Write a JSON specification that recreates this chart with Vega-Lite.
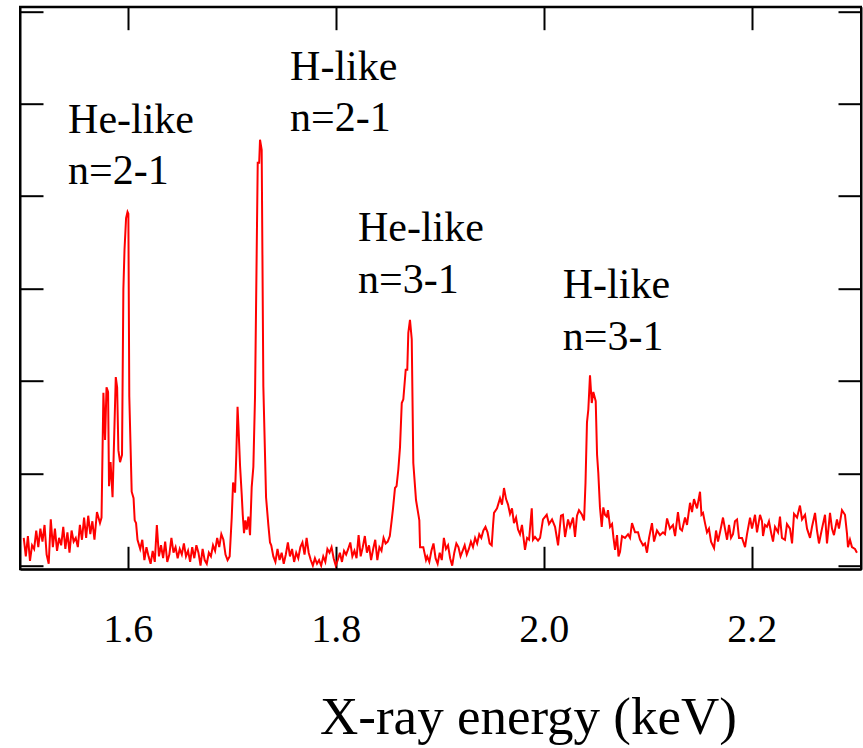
{
  "$schema": "https://vega.github.io/schema/vega-lite/v6.json",
  "autosize": "none",
  "width": 841,
  "height": 562.6,
  "padding": {"left": 20, "top": 6.7, "right": 2, "bottom": 178.7},
  "background": "white",
  "config": {
    "view": {"stroke": "black", "strokeWidth": 2},
    "axis": {
      "domainColor": "black", "domainWidth": 2,
      "tickColor": "black", "tickWidth": 2, "tickSize": -23,
      "grid": false,
      "labelFont": "Liberation Serif", "labelFontSize": 40, "labelColor": "black",
      "titleFont": "Liberation Serif", "titleFontSize": 53, "titleFontWeight": "normal", "titleColor": "black"
    }
  },
  "datasets": {
    "spectrum": [
      {"e":1.500,"c":0.30},{"e":1.502,"c":0.10},{"e":1.504,"c":0.32},{"e":1.506,"c":0.05},{"e":1.508,"c":0.22},
      {"e":1.510,"c":0.18},{"e":1.512,"c":0.38},{"e":1.514,"c":0.20},{"e":1.516,"c":0.40},{"e":1.518,"c":0.26},
      {"e":1.520,"c":0.44},{"e":1.522,"c":0.12},{"e":1.524,"c":0.02},{"e":1.526,"c":0.50},{"e":1.528,"c":0.20},
      {"e":1.530,"c":0.40},{"e":1.532,"c":0.16},{"e":1.534,"c":0.30},{"e":1.536,"c":0.22},{"e":1.538,"c":0.42},
      {"e":1.540,"c":0.18},{"e":1.542,"c":0.36},{"e":1.544,"c":0.14},{"e":1.546,"c":0.38},{"e":1.548,"c":0.26},
      {"e":1.550,"c":0.30},{"e":1.552,"c":0.20},{"e":1.554,"c":0.44},{"e":1.556,"c":0.28},{"e":1.558,"c":0.52},
      {"e":1.560,"c":0.30},{"e":1.562,"c":0.54},{"e":1.564,"c":0.34},{"e":1.566,"c":0.48},{"e":1.568,"c":0.28},
      {"e":1.5704,"c":0.58},{"e":1.5733,"c":0.46},{"e":1.5748,"c":0.52},{"e":1.5766,"c":1.87},{"e":1.5782,"c":1.36},
      {"e":1.5796,"c":1.93},{"e":1.5811,"c":1.88},{"e":1.5820,"c":0.86},{"e":1.5835,"c":1.12},{"e":1.5854,"c":0.74},
      {"e":1.5885,"c":2.04},{"e":1.5898,"c":1.93},{"e":1.5910,"c":1.25},{"e":1.5926,"c":1.12},{"e":1.5945,"c":1.20},
      {"e":1.5958,"c":2.99},{"e":1.5969,"c":3.42},{"e":1.5984,"c":3.76},{"e":1.5998,"c":3.83},{"e":1.6006,"c":3.81},
      {"e":1.6015,"c":1.83},{"e":1.6038,"c":0.80},{"e":1.6056,"c":0.73},{"e":1.6067,"c":0.49},{"e":1.6080,"c":0.46},
      {"e":1.6094,"c":0.28},
      {"e":1.612,"c":0.18},{"e":1.614,"c":0.28},{"e":1.616,"c":0.06},{"e":1.618,"c":0.20},{"e":1.620,"c":0.10},
      {"e":1.622,"c":0.02},{"e":1.624,"c":0.16},{"e":1.626,"c":0.04},{"e":1.628,"c":0.44},{"e":1.630,"c":0.10},
      {"e":1.632,"c":0.22},{"e":1.634,"c":0.08},{"e":1.636,"c":0.26},{"e":1.638,"c":0.04},{"e":1.640,"c":0.12},
      {"e":1.642,"c":0.30},{"e":1.644,"c":0.14},{"e":1.646,"c":0.20},{"e":1.648,"c":0.08},{"e":1.650,"c":0.18},
      {"e":1.652,"c":0.12},{"e":1.654,"c":0.24},{"e":1.656,"c":0.10},{"e":1.658,"c":0.16},{"e":1.660,"c":0.04},
      {"e":1.662,"c":0.20},{"e":1.664,"c":0.08},{"e":1.666,"c":0.22},{"e":1.668,"c":0.14},{"e":1.670,"c":0.00},
      {"e":1.672,"c":0.18},{"e":1.674,"c":0.06},{"e":1.676,"c":0.02},{"e":1.678,"c":0.14},{"e":1.680,"c":0.10},
      {"e":1.682,"c":0.22},{"e":1.684,"c":0.16},{"e":1.686,"c":0.30},{"e":1.688,"c":0.20},{"e":1.690,"c":0.34},
      {"e":1.692,"c":0.28},{"e":1.694,"c":0.12},{"e":1.696,"c":0.06},{"e":1.698,"c":0.10},
      {"e":1.7000,"c":0.52},{"e":1.7013,"c":0.90},{"e":1.7032,"c":0.79},{"e":1.7044,"c":1.20},{"e":1.7056,"c":1.72},
      {"e":1.7066,"c":1.47},{"e":1.7080,"c":1.08},{"e":1.7096,"c":0.77},{"e":1.7106,"c":0.55},{"e":1.7118,"c":0.35},
      {"e":1.7131,"c":0.49},{"e":1.7144,"c":0.39},{"e":1.7160,"c":0.53},{"e":1.7176,"c":0.33},{"e":1.7192,"c":0.85},
      {"e":1.7208,"c":1.07},{"e":1.7224,"c":1.83},{"e":1.7240,"c":3.39},{"e":1.7250,"c":4.36},{"e":1.7264,"c":4.36},
      {"e":1.7272,"c":4.61},{"e":1.7288,"c":4.50},{"e":1.7304,"c":1.94},{"e":1.7330,"c":0.74},{"e":1.7352,"c":0.44},
      {"e":1.7368,"c":0.25},
      {"e":1.738,"c":0.22},{"e":1.740,"c":0.10},{"e":1.742,"c":0.04},{"e":1.744,"c":0.18},{"e":1.746,"c":0.06},
      {"e":1.748,"c":0.14},{"e":1.750,"c":0.02},{"e":1.752,"c":0.12},{"e":1.754,"c":0.25},{"e":1.756,"c":0.10},
      {"e":1.758,"c":0.18},{"e":1.760,"c":0.04},{"e":1.762,"c":0.14},{"e":1.764,"c":0.08},{"e":1.766,"c":0.20},
      {"e":1.768,"c":0.25},{"e":1.770,"c":0.12},{"e":1.772,"c":0.30},{"e":1.774,"c":0.14},{"e":1.776,"c":0.06},
      {"e":1.778,"c":0.00},{"e":1.780,"c":0.08},{"e":1.782,"c":0.02},{"e":1.784,"c":0.06},{"e":1.786,"c":0.00},
      {"e":1.788,"c":0.10},{"e":1.790,"c":0.04},{"e":1.792,"c":0.18},{"e":1.794,"c":0.14},{"e":1.796,"c":0.20},
      {"e":1.798,"c":0.08},{"e":1.800,"c":0.00},{"e":1.802,"c":0.06},{"e":1.804,"c":0.14},{"e":1.806,"c":0.04},
      {"e":1.808,"c":0.16},{"e":1.810,"c":0.12},{"e":1.812,"c":0.18},{"e":1.814,"c":0.25},{"e":1.816,"c":0.10},
      {"e":1.818,"c":0.16},{"e":1.820,"c":0.08},{"e":1.822,"c":0.33},{"e":1.824,"c":0.10},{"e":1.826,"c":0.20},
      {"e":1.828,"c":0.32},{"e":1.830,"c":0.14},{"e":1.832,"c":0.22},{"e":1.834,"c":0.06},{"e":1.836,"c":0.18},
      {"e":1.838,"c":0.28},{"e":1.840,"c":0.06},{"e":1.842,"c":0.20},{"e":1.844,"c":0.16},{"e":1.846,"c":0.30},
      {"e":1.848,"c":0.24},{"e":1.850,"c":0.26},{"e":1.852,"c":0.32},
      {"e":1.8538,"c":0.49},{"e":1.8551,"c":0.62},{"e":1.8570,"c":0.84},{"e":1.8585,"c":0.86},{"e":1.8602,"c":1.04},
      {"e":1.8618,"c":1.28},{"e":1.8635,"c":1.76},{"e":1.8650,"c":1.80},{"e":1.8673,"c":2.12},{"e":1.8688,"c":2.12},
      {"e":1.8698,"c":2.52},{"e":1.8714,"c":2.66},{"e":1.8731,"c":2.45},{"e":1.8746,"c":1.11},{"e":1.8772,"c":0.71},
      {"e":1.8804,"c":0.49},{"e":1.8811,"c":0.20},{"e":1.8842,"c":0.20},{"e":1.8868,"c":0.06},
      {"e":1.888,"c":0.10},{"e":1.890,"c":0.04},{"e":1.892,"c":0.16},{"e":1.894,"c":0.24},{"e":1.896,"c":0.08},
      {"e":1.898,"c":0.02},{"e":1.900,"c":0.14},{"e":1.902,"c":0.06},{"e":1.904,"c":0.30},{"e":1.906,"c":0.18},
      {"e":1.908,"c":0.22},{"e":1.910,"c":0.08},{"e":1.912,"c":0.00},{"e":1.914,"c":0.14},{"e":1.916,"c":0.24},
      {"e":1.918,"c":0.20},{"e":1.920,"c":0.10},{"e":1.922,"c":0.16},{"e":1.924,"c":0.22},{"e":1.926,"c":0.12},
      {"e":1.928,"c":0.18},{"e":1.930,"c":0.26},{"e":1.932,"c":0.20},{"e":1.934,"c":0.30},{"e":1.936,"c":0.24},
      {"e":1.938,"c":0.34},{"e":1.940,"c":0.30},{"e":1.942,"c":0.38},{"e":1.944,"c":0.42},{"e":1.946,"c":0.36},
      {"e":1.948,"c":0.24},{"e":1.950,"c":0.22},
      {"e":1.9513,"c":0.44},{"e":1.9522,"c":0.57},{"e":1.9551,"c":0.62},{"e":1.9580,"c":0.73},{"e":1.9599,"c":0.66},
      {"e":1.9618,"c":0.84},{"e":1.9638,"c":0.72},{"e":1.9657,"c":0.66},{"e":1.9676,"c":0.56},{"e":1.9695,"c":0.62},
      {"e":1.9714,"c":0.46},{"e":1.9734,"c":0.52},{"e":1.9753,"c":0.39},{"e":1.9772,"c":0.34},{"e":1.9791,"c":0.44},
      {"e":1.9820,"c":0.17},{"e":1.9840,"c":0.30},{"e":1.9859,"c":0.28},{"e":1.9885,"c":0.62},{"e":1.9897,"c":0.28},
      {"e":1.9916,"c":0.31},{"e":1.9945,"c":0.27},{"e":1.9965,"c":0.30},{"e":1.9993,"c":0.50},{"e":2.0029,"c":0.55},
      {"e":2.0051,"c":0.45},{"e":2.0080,"c":0.50},{"e":2.0109,"c":0.42},{"e":2.0138,"c":0.22},{"e":2.0166,"c":0.54},
      {"e":2.0185,"c":0.55},{"e":2.0205,"c":0.31},{"e":2.0234,"c":0.50},{"e":2.0253,"c":0.42},{"e":2.0282,"c":0.52},
      {"e":2.0301,"c":0.31},{"e":2.0320,"c":0.54},{"e":2.0339,"c":0.60},{"e":2.0368,"c":0.55},{"e":2.0388,"c":0.49},
      {"e":2.0402,"c":0.90},{"e":2.0416,"c":1.55},{"e":2.0429,"c":1.69},{"e":2.0445,"c":2.06},{"e":2.0462,"c":1.76},
      {"e":2.0477,"c":1.88},{"e":2.0500,"c":1.78},{"e":2.0513,"c":1.20},{"e":2.0525,"c":1.00},{"e":2.0541,"c":0.63},
      {"e":2.0558,"c":0.42},{"e":2.0573,"c":0.63},{"e":2.0589,"c":0.55},{"e":2.0606,"c":0.53},{"e":2.0618,"c":0.60},
      {"e":2.0638,"c":0.42},{"e":2.0657,"c":0.45},{"e":2.0671,"c":0.30},{"e":2.0686,"c":0.17},{"e":2.0705,"c":0.33},
      {"e":2.0719,"c":0.10},
      {"e":2.0734,"c":0.15},{"e":2.0753,"c":0.32},{"e":2.0782,"c":0.30},{"e":2.0811,"c":0.34},{"e":2.0830,"c":0.30},
      {"e":2.0849,"c":0.46},{"e":2.0878,"c":0.36},{"e":2.0907,"c":0.36},{"e":2.0926,"c":0.28},{"e":2.0955,"c":0.22},
      {"e":2.0974,"c":0.24},{"e":2.0993,"c":0.14},{"e":2.1013,"c":0.30},{"e":2.1041,"c":0.46},{"e":2.1061,"c":0.26},
      {"e":2.1089,"c":0.38},{"e":2.1118,"c":0.33},{"e":2.1147,"c":0.36},{"e":2.1166,"c":0.34},{"e":2.1186,"c":0.51},
      {"e":2.1214,"c":0.40},{"e":2.1243,"c":0.44},{"e":2.1263,"c":0.32},{"e":2.1291,"c":0.58},{"e":2.1311,"c":0.40},
      {"e":2.1330,"c":0.38},{"e":2.1359,"c":0.52},{"e":2.1378,"c":0.44},{"e":2.1407,"c":0.68},{"e":2.1426,"c":0.58},
      {"e":2.1445,"c":0.72},{"e":2.1474,"c":0.62},{"e":2.1503,"c":0.80},{"e":2.1517,"c":0.55},{"e":2.1532,"c":0.57},
      {"e":2.1551,"c":0.46},{"e":2.1570,"c":0.36},{"e":2.1589,"c":0.40},{"e":2.1609,"c":0.26},{"e":2.1638,"c":0.19},
      {"e":2.1657,"c":0.38},{"e":2.1676,"c":0.26},{"e":2.1695,"c":0.36},{"e":2.1724,"c":0.52},{"e":2.1743,"c":0.40},
      {"e":2.1763,"c":0.28},{"e":2.1782,"c":0.44},{"e":2.1801,"c":0.30},{"e":2.1820,"c":0.34},{"e":2.1839,"c":0.48},
      {"e":2.1859,"c":0.50},{"e":2.1878,"c":0.30},{"e":2.1907,"c":0.30},{"e":2.1936,"c":0.20},{"e":2.1955,"c":0.34},
      {"e":2.1984,"c":0.52},{"e":2.2003,"c":0.40},{"e":2.2032,"c":0.55},{"e":2.2051,"c":0.36},{"e":2.2080,"c":0.55},
      {"e":2.2099,"c":0.48},{"e":2.2109,"c":0.32},{"e":2.2128,"c":0.44},{"e":2.2147,"c":0.42},{"e":2.2166,"c":0.48},
      {"e":2.2186,"c":0.36},{"e":2.2205,"c":0.26},{"e":2.2224,"c":0.42},{"e":2.2253,"c":0.36},{"e":2.2272,"c":0.53},
      {"e":2.2291,"c":0.30},{"e":2.2320,"c":0.28},{"e":2.2339,"c":0.45},{"e":2.2368,"c":0.40},{"e":2.2388,"c":0.24},
      {"e":2.2407,"c":0.56},{"e":2.2436,"c":0.52},{"e":2.2464,"c":0.65},{"e":2.2484,"c":0.50},{"e":2.2513,"c":0.55},
      {"e":2.2532,"c":0.40},{"e":2.2561,"c":0.30},{"e":2.2580,"c":0.42},{"e":2.2609,"c":0.57},{"e":2.2628,"c":0.38},
      {"e":2.2647,"c":0.24},{"e":2.2676,"c":0.40},{"e":2.2705,"c":0.55},{"e":2.2724,"c":0.24},{"e":2.2753,"c":0.57},
      {"e":2.2772,"c":0.40},{"e":2.2791,"c":0.33},{"e":2.2820,"c":0.50},{"e":2.2839,"c":0.40},{"e":2.2868,"c":0.60},
      {"e":2.2897,"c":0.55},{"e":2.2916,"c":0.35},{"e":2.2926,"c":0.20},{"e":2.2945,"c":0.28},{"e":2.2964,"c":0.20},
      {"e":2.2993,"c":0.18},{"e":2.3012,"c":0.14}
    ],
    "labels": [
      {"e":1.5426,"c":4.686,"text":["He-like","n=2-1"]},
      {"e":1.7561,"c":5.261,"text":["H-like","n=2-1"]},
      {"e":1.8214,"c":3.509,"text":["He-like","n=3-1"]},
      {"e":2.0183,"c":2.896,"text":["H-like","n=3-1"]}
    ]
  },
  "layer": [
    {
      "data": {"name": "spectrum"},
      "mark": {"type": "line", "color": "#ff0000", "strokeWidth": 2, "clip": true},
      "encoding": {
        "x": {"field": "e", "type": "quantitative",
              "scale": {"domain": [1.4964, 2.3051], "nice": false, "zero": false},
              "axis": {"orient": "bottom", "values": [1.6, 1.8, 2.0, 2.2], "format": ".1f",
                       "labelPadding": 95, "labelBaseline": "alphabetic",
                       "title": "X-ray energy (keV)", "titleX": 508, "titleY": 164,
                       "titleAlign": "center", "titleBaseline": "alphabetic", "titleAnchor": null}},
        "y": {"field": "c", "type": "quantitative",
              "scale": {"domain": [-0.04, 6.05], "nice": false, "zero": false},
              "axis": {"orient": "left", "values": [0, 1, 2, 3, 4, 5, 6], "labels": false, "title": null}}
      }
    },
    {
      "data": {"name": "labels"},
      "mark": {"type": "text", "font": "Liberation Serif", "fontSize": 42, "align": "left",
               "baseline": "alphabetic", "lineHeight": 51.6, "color": "black"},
      "encoding": {
        "x": {"field": "e", "type": "quantitative",
              "axis": {"orient": "top", "values": [1.6, 1.8, 2.0, 2.2], "labels": false, "title": null}},
        "y": {"field": "c", "type": "quantitative",
              "axis": {"orient": "right", "values": [0, 1, 2, 3, 4, 5, 6], "labels": false, "title": null}},
        "text": {"field": "text", "type": "nominal"}
      }
    }
  ],
  "resolve": {"axis": {"x": "independent", "y": "independent"}}
}
